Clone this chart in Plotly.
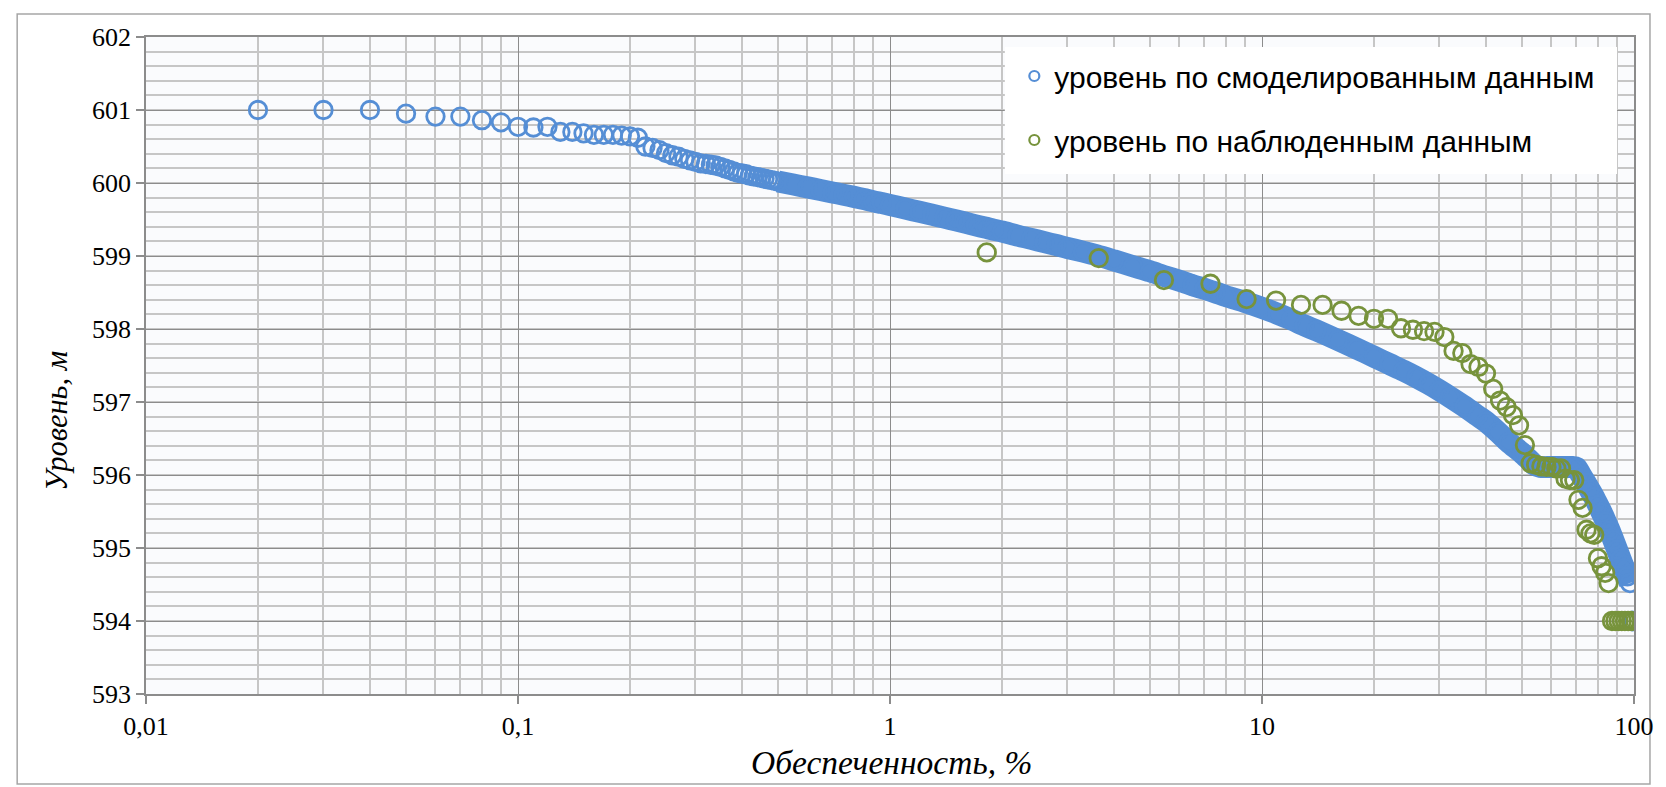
import plotly.graph_objects as go

# ---- data ----
sim_p = [0.02, 0.03, 0.04, 0.05, 0.06, 0.07, 0.08, 0.09, 0.10,
         0.11, 0.12, 0.13, 0.14, 0.15, 0.16, 0.17, 0.18, 0.19, 0.20,
         0.21, 0.22, 0.23, 0.24, 0.25, 0.26, 0.27, 0.28, 0.29, 0.30,
         0.31, 0.32, 0.33, 0.34, 0.35, 0.36, 0.37, 0.38, 0.39, 0.40,
         0.41, 0.42, 0.43, 0.44, 0.45, 0.46, 0.47, 0.48, 0.49, 0.50,
         0.55, 0.60, 0.65, 0.70, 0.75, 0.80, 0.85, 0.90, 0.95,
         1.0, 1.1, 1.2, 1.3, 1.4, 1.5, 1.6, 1.7, 1.8, 1.9, 2.0,
         2.2, 2.4, 2.6, 2.8, 3.0, 3.3, 3.6, 4.0, 4.5, 5.0, 5.5, 6.0, 6.5, 7.0, 7.5, 8.0, 9.0,
         10, 11, 12, 13, 14, 16, 18, 20, 22, 24, 26, 28, 30, 32, 35, 38, 40, 43, 46, 50,
         52, 54, 56, 60, 64, 68, 70, 72, 74, 76, 78, 80, 82, 84, 86, 88, 90, 92, 94, 96, 97.5,
         98.5, 99.0, 99.5]
sim_h = [601.00, 601.00, 601.00, 600.95, 600.91, 600.91, 600.86, 600.83, 600.77,
         600.76, 600.77, 600.70, 600.70, 600.68, 600.66, 600.66, 600.66, 600.65, 600.64,
         600.62, 600.50, 600.48, 600.45, 600.41, 600.38, 600.36, 600.33, 600.31, 600.29,
         600.27, 600.26, 600.25, 600.24, 600.22, 600.20, 600.18, 600.16, 600.14, 600.13,
         600.12, 600.10, 600.09, 600.08, 600.07, 600.06, 600.05, 600.04, 600.03, 600.02,
         599.98, 599.94, 599.905, 599.87, 599.84, 599.81, 599.78, 599.75, 599.725,
         599.70, 599.65, 599.605, 599.565, 599.525, 599.49, 599.455, 599.42, 599.39, 599.36, 599.335,
         599.28, 599.235, 599.19, 599.15, 599.11, 599.06, 599.01, 598.94, 598.86, 598.79, 598.72,
         598.66, 598.60, 598.55, 598.50, 598.45, 598.37,
         598.29, 598.21, 598.13, 598.05, 597.98, 597.85, 597.73, 597.62, 597.52, 597.43,
         597.34, 597.25, 597.16, 597.07, 596.94, 596.81, 596.73, 596.59, 596.45, 596.30,
         596.22, 596.14, 596.11, 596.11, 596.11, 596.11, 596.10, 596.00, 595.90, 595.80,
         595.70, 595.59, 595.48, 595.36, 595.24, 595.11, 594.98, 594.85, 594.73, 594.61, 594.52,
         594.0, 594.0, 594.0]

obs_p = [1.82, 3.64, 5.45, 7.27, 9.09, 10.91, 12.73, 14.55, 16.36, 18.18,
         20.00, 21.82, 23.64, 25.45, 27.27, 29.09, 30.91, 32.73, 34.55, 36.36,
         38.18, 40.00, 41.82, 43.64, 45.45, 47.27, 49.09, 50.91, 52.73, 54.55,
         56.36, 58.18, 60.00, 61.82, 63.64, 65.45, 67.27, 69.09, 70.91, 72.73,
         74.55, 76.36, 78.18, 80.00, 81.82, 83.64, 85.45, 87.27, 89.09, 90.91,
         92.73, 94.55, 96.36, 98.18]
obs_h = [599.05, 598.97, 598.67, 598.62, 598.41, 598.39, 598.33, 598.33, 598.25, 598.18,
         598.14, 598.14, 598.01, 597.99, 597.97, 597.96, 597.89, 597.70, 597.67, 597.52,
         597.48, 597.39, 597.18, 597.02, 596.93, 596.82, 596.68, 596.41, 596.16, 596.14,
         596.12, 596.11, 596.11, 596.09, 596.09, 595.95, 595.93, 595.93, 595.66, 595.55,
         595.25, 595.20, 595.18, 594.86, 594.75, 594.66, 594.52, 594.0, 594.0, 594.0,
         594.0, 594.0, 594.0, 594.0]

x_tickvals = [0.01, 0.1, 1, 10, 100]
x_ticktext = ["0,01", "0,1", "1", "10", "100"]
y_tickvals = [593, 594, 595, 596, 597, 598, 599, 600, 601, 602]
y_ticktext = [str(v) for v in y_tickvals]

name_sim = "уровень по смоделированным данным"
name_obs = "уровень по наблюденным данным"
x_title = "Обеспеченность, %"
y_title = "Уровень, м"

assert len(sim_p) == len(sim_h) and len(obs_p) == len(obs_h)

BLUE = "#558ED5"
GREEN = "#77933C"
MAJOR = "#8c8c8c"
MINOR = "#c6c6c6"
SERIF = "Liberation Serif, Times New Roman, serif"

# dense part of the simulated curve (markers overlap into a solid band)
band_idx = [i for i, (p, h) in enumerate(zip(sim_p, sim_h)) if p >= 0.5 and h > 594.2]
band_p = [sim_p[i] for i in band_idx]
band_h = [sim_h[i] for i in band_idx]

fig = go.Figure()
fig.add_trace(go.Scatter(x=band_p, y=band_h, mode="lines", showlegend=False,
                         line=dict(color=BLUE, width=22, shape="spline", smoothing=0.7),
                         hoverinfo="skip"))
fig.add_trace(go.Scatter(x=sim_p, y=sim_h, mode="markers", showlegend=False,
                         marker=dict(symbol="circle-open", size=17.5, color=BLUE,
                                     line=dict(width=2.8, color=BLUE))))
fig.add_trace(go.Scatter(x=obs_p, y=obs_h, mode="markers", showlegend=False,
                         marker=dict(symbol="circle-open", size=17.5, color=GREEN,
                                     line=dict(width=2.8, color=GREEN))))
# legend entries (small symbols as in the reference)
fig.add_trace(go.Scatter(x=[None], y=[None], mode="markers", name=name_sim,
                         legendgroup="a",
                         marker=dict(symbol="circle-open", size=10, color=BLUE,
                                     line=dict(width=2.2, color=BLUE))))
fig.add_trace(go.Scatter(x=[None], y=[None], mode="markers", name=name_obs,
                         legendgroup="b",
                         marker=dict(symbol="circle-open", size=10, color=GREEN,
                                     line=dict(width=2.2, color=GREEN))))

L, R, T, B = 146, 1636, 37, 694
W, H = 1666, 787


def px(xp):
    return (xp - L) / (R - L)


def py(yp):
    return (B - yp) / (B - T)


minor_x = [m * 10.0 ** e for e in (-2, -1, 0, 1) for m in range(2, 10)]

fig.update_layout(
    width=W, height=H,
    margin=dict(l=L, r=W - R, t=T, b=H - B),
    paper_bgcolor="#ffffff",
    plot_bgcolor="#fafbfd",
    font=dict(family=SERIF, size=26, color="#000000"),
    showlegend=True,
    legend=dict(
        x=px(1015.5), y=py(50), xanchor="left", yanchor="top",
        bgcolor="rgba(0,0,0,0)", borderwidth=0,
        font=dict(family="Liberation Sans, Arial, sans-serif", size=30, color="#000000"),
        traceorder="grouped", tracegroupgap=22, itemsizing="trace",
    ),
    shapes=[
        dict(type="rect", xref="paper", yref="paper",
             x0=px(17), x1=px(1652), y0=py(784), y1=py(14),
             line=dict(color="#a6a6a6", width=1.5), fillcolor="rgba(0,0,0,0)",
             layer="below"),
        dict(type="rect", xref="paper", yref="paper",
             x0=px(1006), x1=px(1619), y0=py(174), y1=py(47),
             line=dict(width=0), fillcolor="#ffffff", layer="above"),
    ],
    annotations=[
        dict(text="<i>" + x_title + "</i>", xref="paper", yref="paper",
             x=px(893), y=py(762), xanchor="center", yanchor="middle",
             showarrow=False, font=dict(family=SERIF, size=33.5, color="#000000")),
        dict(text="<i>" + y_title + "</i>", xref="paper", yref="paper",
             x=px(57), y=py(421), xanchor="center", yanchor="middle", textangle=-90,
             showarrow=False, font=dict(family=SERIF, size=30.5, color="#000000")),
    ],
)

fig.update_xaxes(
    type="log", range=[-2, 2],
    tickmode="array", tickvals=x_tickvals, ticktext=x_ticktext,
    tickfont_family=SERIF, tickfont_size=26, tickfont_color="#000000",
    showgrid=True, gridcolor=MAJOR, gridwidth=1.3,
    showline=True, linecolor=MAJOR, linewidth=1.5, mirror=True,
    ticks="outside", ticklen=8, tickcolor=MAJOR, tickwidth=1.5,
    minor=dict(tickmode="array", tickvals=minor_x, showgrid=True,
               gridcolor=MINOR, gridwidth=1.5, ticks=""),
    zeroline=False,
)
fig.update_yaxes(
    range=[593, 602],
    tickmode="array", tickvals=y_tickvals, ticktext=y_ticktext,
    tickfont_family=SERIF, tickfont_size=26, tickfont_color="#000000",
    showgrid=True, gridcolor=MAJOR, gridwidth=1.3,
    showline=True, linecolor=MAJOR, linewidth=1.5, mirror=True,
    ticks="outside", ticklen=8, tickcolor=MAJOR, tickwidth=1.5,
    minor=dict(dtick=0.2, showgrid=True, gridcolor=MINOR, gridwidth=1.5, ticks=""),
    zeroline=False,
)

fig.write_html("out.html")
